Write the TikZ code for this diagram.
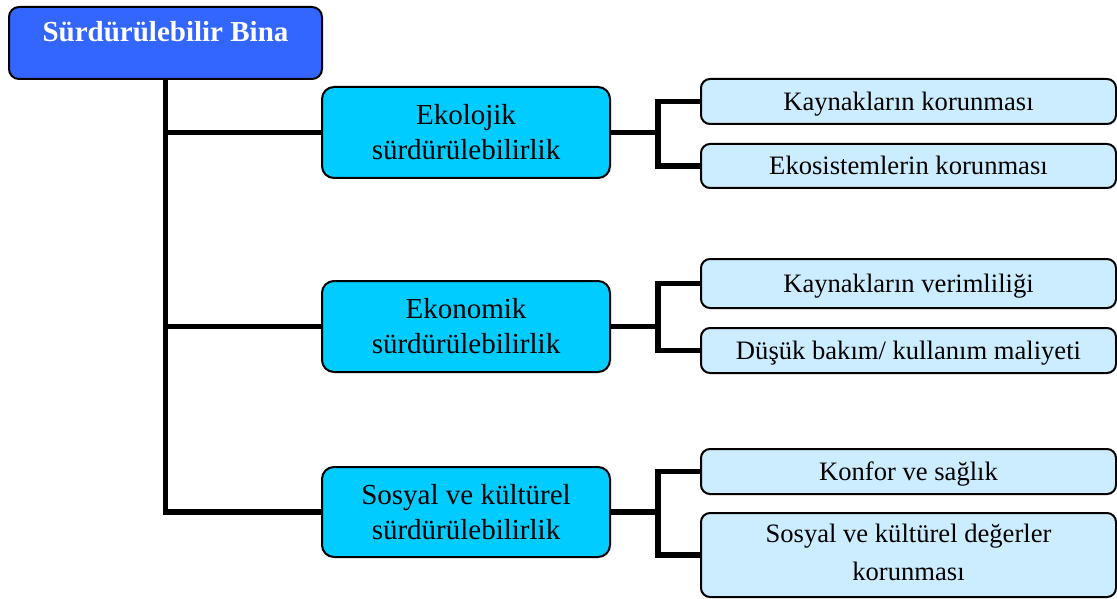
\documentclass[tikz,border=0pt]{standalone}
\usepackage{fontspec}
\setmainfont{Liberation Serif}
\definecolor{rootblue}{HTML}{3366FF}
\definecolor{midcyan}{HTML}{00CCFF}
\definecolor{leafblue}{HTML}{CCECFF}
\begin{document}
\begin{tikzpicture}[x=1pt,y=-1pt,
  rootbox/.style={draw=black,line width=2pt,fill=rootblue,rounded corners=10pt,
    minimum width=313pt,minimum height=72pt,inner sep=0pt,text=white,
    font=\fontsize{29}{34}\selectfont\bfseries,text height=20pt,text depth=22pt},
  midbox/.style={draw=black,line width=2pt,fill=midcyan,rounded corners=12pt,
    minimum width=288pt,minimum height=91pt,inner sep=0pt,align=center,
    font=\fontsize{29}{35}\selectfont},
  leaffont/.style={font=\fontsize{26.6}{38}\selectfont},
  leafbox/.style={draw=black,line width=2pt,fill=leafblue,rounded corners=9pt,
    minimum width=415pt,minimum height=45pt,inner sep=0pt,align=center,
    leaffont,text height=20pt,text depth=2pt},
  link/.style={draw=black,line width=5.5pt}]
\useasboundingbox (0,0) rectangle (1117,599);

% root and the three pillars
\node[rootbox] (r) at (165.5,43) {Sürdürülebilir Bina};
\node[midbox] (m1) at (466,132.5) {Ekolojik\\sürdürülebilirlik};
\node[midbox] (m2) at (466,326.5) {Ekonomik\\sürdürülebilirlik};
\node[midbox,minimum height=90pt] (m3) at (466,512) {Sosyal ve kültürel\\sürdürülebilirlik};

% leaves
\node[leafbox] (l1) at (908.5,101.5) {Kaynakların korunması};
\node[leafbox,minimum height=44pt] (l2) at (908.5,166) {Ekosistemlerin korunması};
\node[leafbox,minimum height=49pt] (l3) at (908.5,283.5) {Kaynakların verimliliği};
\node[leafbox] (l4) at (908.5,350.5) {Düşük bakım/ kullanım maliyeti};
\node[leafbox] (l5) at (908.5,471.5) {Konfor ve sağlık};
\node[leafbox,minimum height=84pt,text height=,text depth=,
  label={[name=l6t,leaffont,align=center,yshift=3pt]center:Sosyal ve kültürel değerler\\korunması}]
  (l6) at (908.5,555) {};

% trunk and branches
\draw[link] (r.south) |- (m3.west);
\draw[link] (r.south |- m1.west) -- (m1.west);
\draw[link] (r.south |- m2.west) -- (m2.west);

\coordinate (j1) at ([xshift=47pt]m1.east);
\coordinate (j2) at ([xshift=47pt]m2.east);
\coordinate (j3) at ([xshift=47pt]m3.east);
\draw[link] (m1.east) -- (j1);
\draw[link] (m2.east) -- (j2);
\draw[link] (m3.east) -- (j3);
\draw[link] (l1.west) -| (j1) |- (l2.west);
\draw[link] (l3.west) -| (j2) |- (l4.west);
\draw[link] (l5.west) -| (j3) |- (l6.west);
\end{tikzpicture}
\end{document}
